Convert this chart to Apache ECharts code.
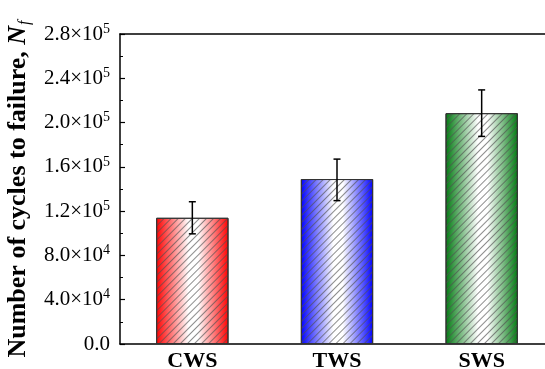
<!DOCTYPE html>
<html>
<head>
<meta charset="utf-8">
<script src="https://cdn.jsdelivr.net/npm/echarts@6/dist/echarts.min.js"></script>
<style>
  html, body { margin: 0; padding: 0; background: #fff; }
  #chart { width: 545px; height: 369px; }
</style>
</head>
<body>
<div id="chart"></div>
<script>
  // 数据
  var categories = ['CWS', 'TWS', 'SWS'];
  var cycles = [114000, 149000, 208500];
  var errLow = [99500, 129500, 187500];
  var errHigh = [128500, 167000, 229500];
  var barColors = ['#ff0000', '#0000ff', '#007a10'];

  var serif = '"Liberation Serif", "Times New Roman", serif';

  function sciLabel(v) {
    if (v === 0) return '{m|0.0}';
    var e = Math.floor(Math.log10(v));
    var m = (v / Math.pow(10, e)).toFixed(1);
    return '{m|' + m + '×10}{e|' + e + '}';
  }

  var barData = cycles.map(function (v, i) {
    return {
      value: v,
      itemStyle: {
        color: new echarts.graphic.LinearGradient(0, 0, 1, 0, [
          { offset: 0, color: barColors[i] },
          { offset: 0.45, color: '#ffffff' },
          { offset: 0.58, color: '#ffffff' },
          { offset: 1, color: barColors[i] }
        ])
      }
    };
  });

  var errData = categories.map(function (c, i) {
    return [i, errLow[i], errHigh[i]];
  });

  var myChart = echarts.init(document.getElementById('chart'));
  myChart.setOption({
    animation: false,
    backgroundColor: '#fff',
    grid: { left: 120, right: -9, top: 34, bottom: 25, outerBoundsMode: 'none' },
    xAxis: [
      {
        type: 'category',
        data: categories,
        axisLine: { lineStyle: { color: '#000', width: 1.5 } },
        axisTick: { show: false },
        axisLabel: {
          color: '#000', fontFamily: serif, fontWeight: 'bold', fontSize: 22, margin: 6
        }
      },
      {
        type: 'category',
        position: 'top',
        data: categories,
        axisLine: { lineStyle: { color: '#000', width: 1.5 } },
        axisTick: { show: false },
        axisLabel: { show: false }
      }
    ],
    yAxis: {
      type: 'value',
      min: 0,
      max: 280000,
      interval: 40000,
      name: '{b|Number of cycles to failure, }{i|N}{s|f}',
      nameLocation: 'middle',
      nameGap: 84,
      nameTextStyle: {
        rich: {
          b: { fontFamily: serif, fontWeight: 'bold', fontSize: 26, color: '#000', lineHeight: 30 },
          i: { fontFamily: serif, fontWeight: 'bold', fontStyle: 'italic', fontSize: 26, color: '#000', lineHeight: 30 },
          s: { fontFamily: serif, fontStyle: 'italic', fontSize: 16, color: '#000', verticalAlign: 'bottom', lineHeight: 14, padding: [0, 0, 0, 1] }
        }
      },
      axisLine: { show: true, lineStyle: { color: '#000', width: 1.5 } },
      axisTick: { show: true, inside: true, length: 5, lineStyle: { color: '#000', width: 1.2 } },
      minorTick: { show: true, splitNumber: 2, length: 3, lineStyle: { color: '#000', width: 1 } },
      splitLine: { show: false },
      axisLabel: {
        margin: 10,
        formatter: sciLabel,
        rich: {
          m: { fontFamily: serif, fontSize: 21, color: '#000', lineHeight: 24 },
          e: { fontFamily: serif, fontSize: 14, color: '#000', verticalAlign: 'top', lineHeight: 14 }
        }
      }
    },
    series: [
      {
        type: 'bar',
        data: barData,
        barWidth: '50%',
        itemStyle: {
          borderColor: '#333',
          borderWidth: 1,
          decal: {
            symbol: 'rect',
            symbolSize: 1,
            color: 'rgba(80,80,80,0.65)',
            backgroundColor: null,
            dashArrayX: [1, 0],
            dashArrayY: [1, 4],
            rotation: -Math.PI / 4
          }
        }
      },
      {
        type: 'custom',
        data: errData,
        z: 10,
        renderItem: function (params, api) {
          var x = api.value(0);
          var top = api.coord([x, api.value(2)]);
          var bot = api.coord([x, api.value(1)]);
          var hw = 3.5;
          var st = { stroke: '#000', lineWidth: 1.5 };
          return {
            type: 'group',
            children: [
              { type: 'line', shape: { x1: top[0], y1: top[1], x2: bot[0], y2: bot[1] }, style: st },
              { type: 'line', shape: { x1: top[0] - hw, y1: top[1], x2: top[0] + hw, y2: top[1] }, style: st },
              { type: 'line', shape: { x1: bot[0] - hw, y1: bot[1], x2: bot[0] + hw, y2: bot[1] }, style: st }
            ]
          };
        }
      }
    ]
  });
</script>
</body>
</html>
